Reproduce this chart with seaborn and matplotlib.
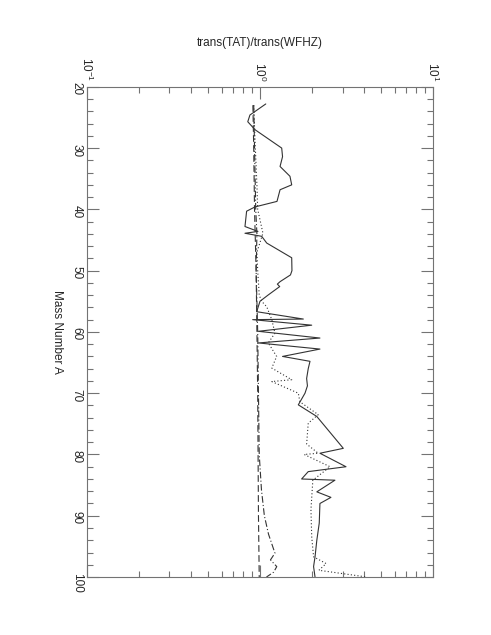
import numpy as np
import pandas as pd
import matplotlib
matplotlib.use("Agg")
import matplotlib.pyplot as plt
from matplotlib.ticker import MultipleLocator
import seaborn as sns

sns.set_style("white")
plt.rcParams['font.family'] = ['Liberation Sans', 'DejaVu Sans']
plt.rcParams['mathtext.fontset'] = 'custom'
plt.rcParams['mathtext.rm'] = 'Liberation Sans'

# solid curve
solid_A = [22.8, 24.6, 25.7, 27.0, 30.0, 31.4, 33.0, 34.6, 36.0, 36.8, 38.7, 39.6,
           40.3, 42.8, 43.6, 43.9, 44.4, 45.5, 47.9, 50.0, 50.7, 51.8, 52.2, 52.6,
           54.0, 55.0, 56.7, 57.9, 58.0, 58.9, 59.9, 61.0, 61.8, 62.8, 64.0, 64.8,
           66.0, 67.6, 68.8, 70.0, 71.9, 73.8, 79.0, 79.8, 82.0, 82.8, 84.0, 84.2,
           86.1, 87.0, 88.0, 91.2, 94.0, 96.7, 98.3, 100.0]
solid_val = [1.08, 0.875, 0.85, 0.936, 1.335, 1.35, 1.306, 1.49, 1.525, 1.306, 1.254, 0.936,
             0.837, 0.819, 0.973, 0.819, 1.023, 1.094, 1.525, 1.53, 1.50, 1.306, 1.26, 1.30,
             1.112, 1.0, 0.957, 1.78, 0.907, 1.99, 0.978, 2.22, 0.978, 2.22, 1.35, 1.945,
             1.90, 1.86, 1.88, 1.82, 1.665, 2.13, 3.03, 2.22, 3.14, 1.90, 1.74, 2.71,
             2.13, 2.57, 2.22, 2.20, 2.13, 2.08, 2.04, 2.08]

# dotted curve
dotted_A = [23.0, 30.0, 36.0, 40.0, 43.9, 47.0, 50.0, 54.0, 55.0, 55.9, 58.0, 60.2,
            61.8, 64.0, 65.9, 67.8, 68.1, 70.0, 71.4, 73.5, 74.9, 78.3, 79.8, 80.0,
            82.0, 84.2, 89.0, 93.4, 96.7, 97.8, 98.9, 100.0]
dotted_val = [0.92, 0.94, 0.96, 0.97, 1.04, 0.96, 0.97, 0.99, 1.023, 1.094, 1.17, 1.22,
              1.117, 1.248, 1.17, 1.525, 1.17, 1.665, 1.70, 2.17, 1.90, 1.86, 2.17, 1.80,
              2.54, 2.02, 1.97, 1.99, 2.04, 2.41, 2.19, 4.15]

# dashed curve
dashed_A = [23, 30, 40, 50, 60, 70, 80, 90, 100]
dashed_val = [0.91, 0.92, 0.93, 0.95, 0.96, 0.97, 0.975, 0.98, 0.99]

# dash-dot curve
dashdot_A = [23, 30, 40, 44, 50, 60, 70, 80, 85.8, 90, 93, 96.1, 97.2, 98.3, 99.2, 100]
dashdot_val = [0.92, 0.93, 0.945, 0.96, 0.95, 0.97, 0.98, 0.99, 1.02, 1.06, 1.12, 1.22,
               1.15, 1.25, 1.20, 1.09]

frames = []
for name, A, v in [("solid", solid_A, solid_val), ("dotted", dotted_A, dotted_val),
                   ("dashed", dashed_A, dashed_val), ("dashdot", dashdot_A, dashdot_val)]:
    frames.append(pd.DataFrame({"A": A, "ratio": v, "series": name}))
df = pd.concat(frames, ignore_index=True)

fig = plt.figure(figsize=(4.91, 6.35), dpi=100)
ax = fig.add_axes([0.177, 0.0913, 0.705, 0.772])

sns.lineplot(data=df, x="ratio", y="A", style="series", sort=False, estimator=None,
             dashes={"solid": "", "dotted": (1, 2), "dashed": (6, 3), "dashdot": (6, 2, 1, 2)},
             color="0.2", linewidth=0.8, legend=False, ax=ax)

ax.set_xscale("log")
ax.set_xlim(0.1, 10)
ax.set_ylim(100, 20)

ax.yaxis.set_major_locator(MultipleLocator(10))
ax.yaxis.set_minor_locator(MultipleLocator(2))

for s in ax.spines.values():
    s.set_color("0.45")
    s.set_linewidth(0.8)

ax.xaxis.set_ticks_position("both")
ax.yaxis.set_ticks_position("both")
ax.tick_params(which="both", direction="in", color="0.45", width=0.8, labelsize=8.5)
ax.tick_params(which="major", length=8.6)
ax.tick_params(which="minor", length=4.3)
ax.tick_params(axis="x", which="both", labeltop=True, labelbottom=False, labelrotation=-90, pad=4)
ax.tick_params(axis="y", labelrotation=-90, pad=3)

ax.set_xlabel("")
ax.set_ylabel("Mass Number A", rotation=-90, fontsize=8.5, ha="center", va="center")
ax.yaxis.set_label_coords(-0.087, 0.5)

fig.text(0.53, 1 - 43 / 635, "trans(TAT)/trans(WFHZ)", ha="center", va="center", fontsize=8.5)

fig.savefig("out.png", dpi=100)
